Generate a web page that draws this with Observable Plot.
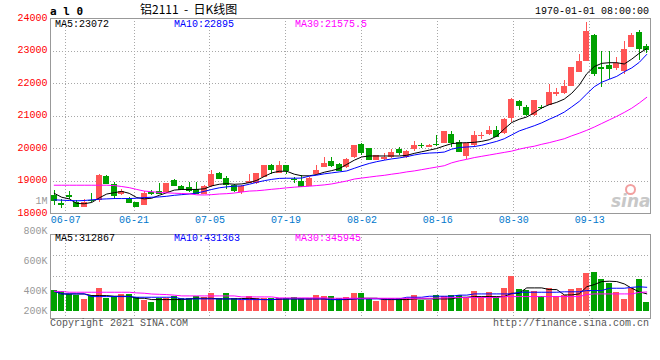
<!DOCTYPE html>
<html><head><meta charset="utf-8">
<script src="https://cdn.jsdelivr.net/npm/d3@7"></script>
<script src="https://cdn.jsdelivr.net/npm/@observablehq/plot@0.6"></script>
<style>
html,body{margin:0;padding:0;background:#fff;}
#chart{position:relative;width:660px;height:360px;overflow:hidden;background:#fff;font-family:"Liberation Mono","DejaVu Sans Mono",monospace;font-size:10px;}
#chart svg{position:absolute;left:0;top:0;}
.t{position:absolute;line-height:12px;white-space:pre;}
</style></head><body><div id="chart"></div>
<script>
// ---- data ----
const openP  = [18560,18300,18560,18350,18200,18410,18385,19150,18900,18590,18460,18330,18250,18660,18692,18641,19020,18846,18815,18743,18590,18846,19236,19082,18850,18641,18918,18918,19123,19492,19226,19462,19060,19000,18846,19185,19410,19615,19513,19410,19718,20128,20005,19646,19667,19718,19975,19718,19954,20107,20046,20128,20150,20436,20200,19749,20077,20385,20436,20569,20456,20928,21441,21256,21021,21270,21338,21667,21687,21923,22333,22692,23492,22480,22569,22467,22364,23103,23564,23133];
const highP  = [18700,18440,18680,18400,18420,18620,19200,19180,18950,18740,18480,18330,18680,18720,18918,18930,19040,18860,18950,18950,18860,19330,19260,19150,18900,18870,19185,19226,19492,19500,19585,19480,19123,19174,19100,19462,19738,19738,19550,19680,20090,20150,20010,19780,19850,19975,20046,19940,20230,20160,20110,20385,20510,20538,20251,20160,20508,20487,20692,20692,20920,21530,21482,21328,21492,21328,21974,21851,22077,22500,22897,23892,23513,23000,23000,22795,23277,23544,23646,23205];
const lowP   = [18250,18150,18420,18180,18200,18340,18330,18920,18440,18540,18330,18180,18250,18560,18590,18620,18850,18720,18640,18590,18570,18800,19050,18743,18650,18600,18918,18900,19100,19205,19226,19205,18918,18826,18846,19174,19410,19410,19300,19400,19700,19770,19620,19620,19640,19700,19770,19700,19923,19995,20040,20056,20150,20026,19872,19667,20046,20282,20415,20333,20440,20795,21154,21000,21000,21205,21308,21595,21667,21910,22333,22692,22210,21892,22128,22385,22282,23103,22713,22918];
const closeP = [18400,18280,18530,18230,18350,18390,19180,18920,18540,18690,18330,18230,18610,18620,18610,18918,18867,18743,18723,18610,18846,19205,19072,18897,18710,18846,19000,19226,19492,19350,19462,19308,19045,18846,19082,19338,19533,19492,19308,19667,20077,19892,19667,19770,19738,19892,19872,19923,20077,20097,20097,20118,20508,20180,19923,20149,20385,20405,20569,20354,20897,21513,21338,21031,21462,21250,21708,21718,21923,22487,22662,23615,22303,22460,22467,22610,23051,23492,23082,23031];
const ma5  = [18620,18500,18450,18310,18300,18340,18480,18600,18640,18680,18620,18490,18450,18470,18560,18640,18720,18740,18740,18740,18760,18850,18900,18920,18900,18910,18950,19020,19140,19250,19300,19300,19210,19160,19160,19200,19270,19320,19380,19510,19640,19740,19770,19770,19770,19770,19770,19790,19850,19900,19950,20000,20080,20150,20170,20180,20190,20220,20270,20380,20600,20800,20900,20970,21100,21250,21350,21420,21520,21700,21950,22300,22520,22620,22640,22640,22600,22750,22930,23072];
const ma10 = [18420,18410,18400,18390,18400,18420,18440,18450,18460,18460,18460,18470,18490,18500,18510,18530,18560,18580,18600,18630,18680,18740,18790,18820,18840,18850,18900,18960,19010,19050,19080,19085,19085,19090,19150,19180,19220,19250,19280,19310,19390,19470,19540,19595,19640,19680,19710,19750,19800,19840,19860,19870,19890,19980,20030,20046,20060,20100,20160,20220,20300,20420,20540,20620,20700,20790,20900,21000,21120,21280,21450,21680,21900,22040,22130,22220,22360,22480,22650,22895];
const ma30 = [18870,18870,18870,18870,18870,18870,18870,18870,18860,18830,18795,18740,18690,18670,18650,18635,18625,18615,18605,18575,18570,18580,18600,18610,18630,18660,18690,18700,18720,18745,18765,18790,18810,18826,18840,18860,18880,18910,18955,19000,19060,19090,19120,19150,19175,19210,19240,19280,19310,19350,19390,19430,19470,19560,19620,19667,19720,19760,19800,19840,19880,19920,19980,20030,20070,20130,20180,20240,20300,20390,20470,20560,20660,20770,20880,20990,21110,21240,21400,21575.5];
const volume = [372000,360000,300000,276000,210000,276000,414000,234000,270000,300000,294000,252000,192000,159000,237000,234000,270000,228000,228000,264000,252000,318000,222000,318000,222000,192000,264000,222000,222000,222000,222000,222000,252000,222000,222000,282000,270000,270000,222000,252000,318000,318000,222000,174000,222000,222000,222000,222000,282000,192000,192000,282000,270000,282000,282000,234000,354000,252000,330000,252000,414000,630000,390000,372000,354000,270000,414000,270000,282000,390000,414000,684000,702000,570000,504000,330000,210000,414000,570000,162000];
const volMa5  = [360000,312000,312000,312000,312000,282000,282000,282000,270000,270000,270000,234000,234000,210000,210000,210000,210000,210000,220000,234000,234000,234000,222000,222000,222000,228000,234000,222000,210000,210000,216000,222000,222000,222000,222000,222000,222000,210000,210000,210000,222000,234000,234000,234000,210000,210000,210000,210000,222000,222000,222000,222000,222000,222000,252000,252000,264000,264000,264000,264000,264000,324000,324000,420000,420000,420000,390000,390000,294000,294000,312000,440000,480000,534000,540000,534000,492000,414000,350000,312867];
const volMa10 = [360000,312000,312000,312000,312000,264000,264000,264000,264000,264000,264000,252000,252000,252000,252000,252000,252000,222000,222000,222000,222000,222000,222000,222000,222000,210000,210000,210000,210000,210000,222000,222000,222000,222000,222000,222000,222000,210000,210000,222000,222000,222000,222000,222000,222000,222000,222000,252000,252000,252000,270000,270000,270000,270000,290000,290000,312000,312000,312000,312000,312000,312000,342000,342000,342000,342000,342000,342000,350000,350000,350000,372000,372000,372000,414000,414000,414000,430000,440000,431363];
const volMa30 = [360000,355000,342000,342000,342000,342000,342000,342000,342000,342000,342000,330000,324000,310000,305000,300000,290000,276000,276000,276000,276000,276000,276000,276000,276000,258000,258000,258000,258000,258000,240000,240000,240000,240000,240000,240000,240000,234000,234000,234000,234000,234000,234000,234000,234000,234000,234000,234000,234000,234000,234000,236000,240000,246000,246000,246000,246000,246000,246000,246000,264000,264000,264000,264000,264000,264000,264000,264000,264000,264000,264000,300000,312000,312000,312000,312000,312000,312000,340000,345945];
const priceTicks = [18000,19000,20000,21000,22000,23000,24000];
const dateIdx    = [3,12,22,32,42,52,62,72];
const dateLabels = ["06-07","06-21","07-05","07-19","08-02","08-16","08-30","09-13"];
const volLabels  = [1000000,800000,600000,400000,200000];
const maLabelsP  = ["MA5:23072","MA10:22895","MA30:21575.5"];
const maLabelsV  = ["MA5:312867","MA10:431363","MA30:345945"];

// ---- styling ----
const RED = "#ff5555", GREEN = "#00a000", GRID = "#a8a8a8", BORDER = "#999";
const MONO = "Liberation Mono, DejaVu Sans Mono, monospace";
const MA_COLORS = ["#000000", "#0000ff", "#ff00ff"];
const n = closeP.length;
const idx = d3.range(n);
const col = i => closeP[i] >= openP[i] ? RED : GREEN;
// Sina places its date grid on an (n-1)-step grid while candles use n slots
const gridPos = k => (k - 1) * n / (n - 1) - 0.5;
const xs = {type: "linear", domain: [-0.5, n - 0.5], axis: null};
const common = {width: 660, height: 360, marginLeft: 50, marginRight: 10,
  style: {background: "transparent", overflow: "visible"}};
const dotted = {stroke: GRID, strokeDasharray: "1,2", shapeRendering: "crispEdges"};

const candleMarks = (lo, hi, o, c) => [
  Plot.ruleX(idx, {x: i => i, y1: i => lo[i], y2: i => hi[i], stroke: col, shapeRendering: "crispEdges"}),
  Plot.rect(idx, {x1: i => i - 0.4, x2: i => i + 0.4, y1: i => o[i], y2: i => c[i], fill: col, shapeRendering: "crispEdges"}),
  Plot.ruleY(idx, {y: i => c[i], x1: i => i - 0.4, x2: i => i + 0.4, stroke: col, shapeRendering: "crispEdges"})
];
const maLines = arrs => arrs.map((a, j) =>
  Plot.line(idx, {x: i => i, y: i => a[i], stroke: MA_COLORS[j], strokeWidth: 1}));

const main = Plot.plot({
  ...common, marginTop: 18, marginBottom: 147,
  x: xs, y: {domain: [18000, 24000], axis: null},
  marks: [
    Plot.ruleY(priceTicks.slice(1, -1), {y: d => d, ...dotted}),
    Plot.ruleX(dateIdx, {x: gridPos, ...dotted}),
    Plot.frame({stroke: BORDER, shapeRendering: "crispEdges"}),
    Plot.text(priceTicks, {y: d => d, text: d => String(d), frameAnchor: "left", dx: -3, dy: -1, textAnchor: "end", fill: "#ff0000", fontFamily: MONO, fontSize: 10}),
    Plot.text(dateIdx, {x: gridPos, text: (d, j) => dateLabels[j], frameAnchor: "bottom", dy: 9, fill: "#0077cc", fontFamily: MONO, fontSize: 10}),
    ...candleMarks(lowP, highP, openP, closeP),
    ...maLines([ma5, ma10, ma30])
  ]
});

const vDomain = [-130000, 1380000];
const vGrid = [0.75, 0.5].map(f => vDomain[0] + (vDomain[1] - vDomain[0]) * f);
const volPlot = Plot.plot({
  ...common, marginTop: 234, marginBottom: 42,
  x: xs, y: {domain: vDomain, axis: null},
  marks: [
    Plot.ruleY(vGrid, {y: d => d, ...dotted}),
    Plot.ruleX(dateIdx, {x: gridPos, ...dotted}),
    Plot.frame({stroke: BORDER, shapeRendering: "crispEdges"}),
    Plot.rect(idx, {x1: i => i - 0.4, x2: i => i + 0.4, y1: i => 0, y2: i => volume[i], fill: col, shapeRendering: "crispEdges"}),
    ...maLines([volMa5, volMa10, volMa30])
  ]
});

// Sina's volume labels sit on their own (clamped) label scale
const labelPlot = Plot.plot({
  ...common, marginTop: 200, marginBottom: 50,
  x: {domain: [0, 1], axis: null},
  y: {domain: [266667, 1000000], clamp: true, axis: null},
  marks: [
    Plot.text(volLabels, {y: d => d, text: d => d >= 1e6 ? (d / 1e6) + "M" : (d / 1000) + "K",
      frameAnchor: "left", dx: -3, textAnchor: "end", fill: "#999", fontFamily: MONO, fontSize: 10})
  ]
});

const chart = document.getElementById("chart");
chart.append(main, volPlot, labelPlot);

function addText(txt, css) {
  const d = document.createElement("div");
  d.className = "t"; d.textContent = txt;
  Object.assign(d.style, css);
  chart.appendChild(d);
  return d;
}
addText("a l 0", {left: "50px", top: "6px", fontWeight: "bold", fontSize: "11px", fontFamily: "DejaVu Sans Mono, monospace", color: "#000"});
addText("铝2111  -  日K线图", {left: "140px", top: "3px", lineHeight: "12px", fontSize: "12px", fontFamily: "Noto Sans CJK SC, sans-serif", color: "#000"});
addText("1970-01-01 08:00:00", {right: "11px", top: "6px", color: "#000"});
const maLefts = [55, 174, 295];
maLabelsP.forEach((t, j) => addText(t, {left: maLefts[j] + "px", top: "19px", color: MA_COLORS[j]}));
maLabelsV.forEach((t, j) => addText(t, {left: maLefts[j] + "px", top: "233px", color: MA_COLORS[j]}));
addText("Copyright 2021 SINA.COM", {left: "50px", top: "318px", color: "#555"});
addText("http://finance.sina.com.cn", {right: "11px", top: "318px", color: "#555"});
// sina watermark
const eye = document.createElement("div");
Object.assign(eye.style, {position: "absolute", left: "625px", top: "184px", width: "7px", height: "7px", border: "2px solid #f2a0a0", borderRadius: "50%"});
chart.appendChild(eye);
addText("sina", {left: "611px", top: "193px", lineHeight: "16px", fontSize: "17px", fontStyle: "italic", fontWeight: "bold", fontFamily: "DejaVu Sans, sans-serif", color: "#c8c8c8"});
</script></body></html>
